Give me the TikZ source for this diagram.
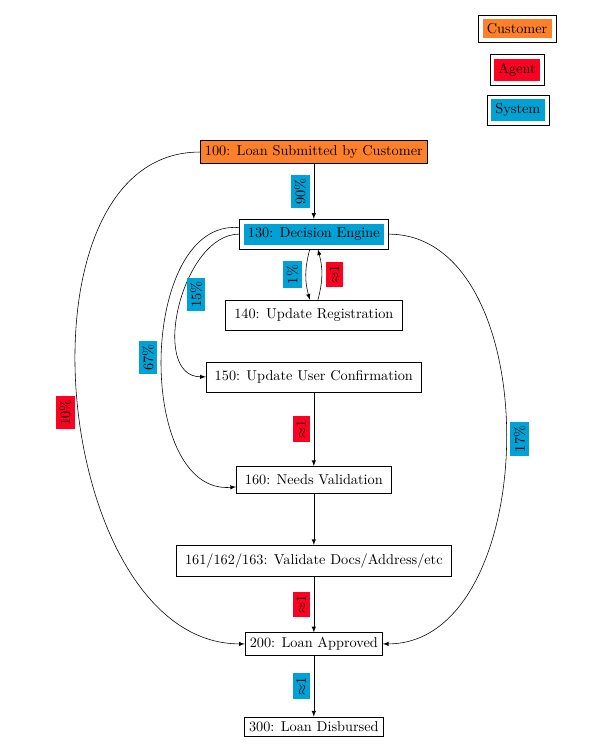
\documentclass[tikz,border=0pt]{standalone}
\usepackage{tikz}
\usepackage{xcolor}
\usepackage{amsmath, amssymb}

\definecolor{customer}{RGB}{255,128,42}
\definecolor{agent}{RGB}{255,0,34}
\definecolor{system}{RGB}{0,161,212}

\begin{document}
\begin{tikzpicture}[scale = 1,
	stepbox/.style = {draw, black, inner sep = 6pt},
	endbox/.style = {draw, black},
	legendbox/.style = {draw, black, inner sep = 3pt},
	perc/.style = {rotate = 90, inner sep = 2.5pt, outer sep = 3pt, text = black},
	flow/.style = {solid, black, -latex}]

	\useasboundingbox (0, 0) rectangle (14.81, -18.45); % Área total

	% Legenda
	\node[legendbox] (legcust)  at (12.72, -0.71) {\colorbox{customer}{Customer}};
	\node[legendbox] (legagent) at (12.72, -1.72) {\colorbox{agent}{Agent}};
	\node[legendbox] (legsys)   at (12.74, -2.71) {\colorbox{system}{System}};

	% Etapas
	\node[endbox, fill = customer] (n100) at (7.72,  -3.74) {100: Loan Submitted by Customer};
	\node[legendbox]               (n130) at (7.72,  -5.76) {\colorbox{system}{130: Decision Engine}};
	\node[stepbox]                 (n140) at (7.72,  -7.75) {140: Update Registration};
	\node[stepbox]                 (n150) at (7.72,  -9.27) {150: Update User Confirmation};
	\node[stepbox]                 (n160) at (7.72, -11.81) {160: Needs Validation};
	\node[stepbox]                 (n161) at (7.72, -13.80) {161/162/163: Validate Docs/Address/etc};
	\node[endbox]                  (n200) at (7.72, -15.84) {200: Loan Approved};
	\node[endbox]                  (n300) at (7.72, -17.88) {300: Loan Disbursed};

	% Fluxo principal
	\draw[flow] (n100) -- (n130) node[perc, fill = system, midway, anchor = south] {90\%};
	\draw[flow] (n150) -- (n160) node[perc, fill = agent, midway, anchor = south] {$\approx$1};
	\draw[flow] (n160) -- (n161);
	\draw[flow] (n161) -- (n200) node[perc, fill = agent, midway, anchor = south] {$\approx$1};
	\draw[flow] (n200) -- (n300) node[perc, fill = system, midway, anchor = south] {$\approx$1};

	% Ida e volta
	\draw[flow] (n130) to[bend right = 15] node[perc, fill = system, midway, anchor = south] {1\%} (n140);
	\draw[flow] (n140) to[bend right = 15] node[perc, fill = agent, midway, anchor = north] {$\approx$1} (n130);

	% Desvios
	\draw[flow] (n130) to[out = 180, in = 180] node[perc, fill = system, pos = 0.45, anchor = north] {15\%} (n150);
	\draw[flow] (n130) to[out = 175, in = 185] node[perc, fill = system, midway, anchor = south] {67\%} (n160);
	\draw[flow] (n100) to[out = 180, in = 180] node[perc, fill = agent, pos = 0.52, anchor = south] {10\%} (n200);
	\draw[flow] (n130) to[out = 0, in = 0] node[perc, fill = system, midway, anchor = north] {17\%} (n200);

\end{tikzpicture}
\end{document}
